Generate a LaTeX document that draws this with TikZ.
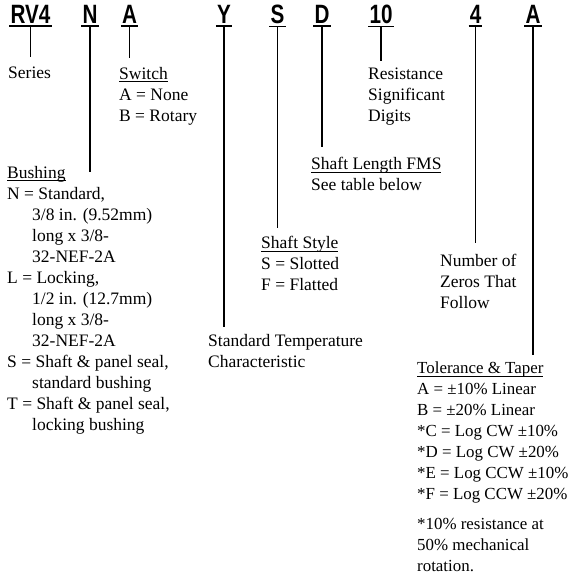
\documentclass[tikz,border=0pt]{standalone}
\usepackage{fontspec}
\usepackage{graphicx}
\setmainfont{Liberation Serif}
\newfontfamily\codefont{Liberation Sans}
\newsavebox\ulbox
\newcommand\ulhead[1]{\sbox\ulbox{#1}\rlap{\rule[-2.8pt]{\wd\ulbox}{0.8pt}}\usebox\ulbox}
\newcommand\narrow[1]{\scalebox{0.78}[1]{#1}}
\newcommand\ind{\hspace*{25pt}}

\begin{document}
\begin{tikzpicture}[x=1pt,y=-1pt,
                code node/.style={font=\codefont\bfseries\fontsize{26.5}{30}\selectfont,anchor=base,inner xsep=1pt,inner ysep=2pt},
                text node/.style={font=\fontsize{17.5}{21}\selectfont,anchor=north west,inner sep=0pt,align=left},
                small text/.style={text node,font=\fontsize{16.9}{21}\selectfont},
                bar/.style={line width=1.8pt},
                lead/.style={line width=1.2pt},
                ]
                \useasboundingbox[fill=white] (0,0) rectangle (572,577);

                % part number codes
                \node[code node] (rv4) at (30.5,24) {\narrow{RV4}};
                \node[code node] (bush) at (90,24) {\narrow{N}};
                \node[code node] (sw) at (129.5,24) {\narrow{A}};
                \node[code node] (stc) at (224,24) {\narrow{Y}};
                \node[code node] (style) at (277.5,24) {\narrow{S}};
                \node[code node] (len) at (322,24) {\narrow{D}};
                \node[code node] (sig) at (381,24) {\narrow{10}};
                \node[code node] (zero) at (475.5,24) {\narrow{4}};
                \node[code node] (taper) at (533,24) {\narrow{A}};

                % descriptions
                \node[text node] (series) at (8,67) {Series};
                \node[text node] (switch) at (119,67) {\ulhead{Switch}\\A = None\\B = Rotary};
                \node[text node] (bushing) at (7,166) {\ulhead{Bushing}\\
                    N = Standard,\\\ind 3/8 in. (9.52mm)\\\ind long x 3/8-\\\ind 32-NEF-2A\\
                    L = Locking,\\\ind 1/2 in. (12.7mm)\\\ind long x 3/8-\\\ind 32-NEF-2A\\
                    S = Shaft \& panel seal,\\\ind standard bushing\\
                    T = Shaft \& panel seal,\\\ind locking bushing};
                \node[text node] (resist) at (368,68) {Resistance\\Significant\\Digits};
                \node[text node] (shaftlen) at (311,157) {\ulhead{Shaft Length FMS}\\See table below};
                \node[text node] (shaftstyle) at (261,236) {\ulhead{Shaft Style}\\S = Slotted\\F = Flatted};
                \node[text node] (temp) at (208,334) {Standard Temperature\\Characteristic};
                \node[text node] (zeros) at (440,254) {Number of\\Zeros That\\Follow};
                \node[small text] (tol) at (417,362) {\ulhead{Tolerance \& Taper}\\A = ±10\% Linear\\B = ±20\% Linear\\
                    {}*C = Log CW ±10\%\\{}*D = Log CW ±20\%\\{}*E = Log CCW ±10\%\\{}*F = Log CCW ±20\%};
                \node[small text] (note) at (417,518) {{}*10\% resistance at\\50\% mechanical\\rotation.};

                % lead ends
                \coordinate (rv4 end) at (30.5,57);
                \coordinate (bush end) at (90,172);
                \coordinate (sw end) at (129.5,58);
                \coordinate (stc end) at (224,327);
                \coordinate (style end) at (277.5,228);
                \coordinate (len end) at (322,147);
                \coordinate (sig end) at (381,61);
                \coordinate (zero end) at (475.5,243);
                \coordinate (taper end) at (533,355);

                \draw[bar] (rv4.south west) -- (rv4.south east);
                \draw[bar] (bush.south west) -- (bush.south east);
                \draw[bar] (sw.south west) -- (sw.south east);
                \draw[bar] (stc.south west) -- (stc.south east);
                \draw[bar] (style.south west) -- (style.south east);
                \draw[bar] (len.south west) -- (len.south east);
                \draw[bar] (sig.south west) -- (sig.south east);
                \draw[bar] (zero.south west) -- (zero.south east);
                \draw[bar] (taper.south west) -- (taper.south east);

                \draw[lead] (rv4.south) -- (rv4 end);
                \draw[lead] (bush.south) -- (bush end);
                \draw[lead] (sw.south) -- (sw end);
                \draw[lead] (stc.south) -- (stc end);
                \draw[lead] (style.south) -- (style end);
                \draw[lead] (len.south) -- (len end);
                \draw[lead] (sig.south) -- (sig end);
                \draw[lead] (zero.south) -- (zero end);
                \draw[lead] (taper.south) -- (taper end);
\end{tikzpicture}
\end{document}
